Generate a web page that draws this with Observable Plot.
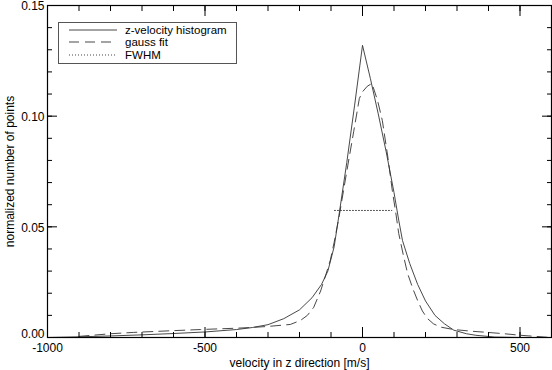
<!DOCTYPE html>
<html>
<head>
<meta charset="utf-8">
<script src="https://cdn.jsdelivr.net/npm/d3@7"></script>
<script src="https://cdn.jsdelivr.net/npm/@observablehq/plot@0.6"></script>
<style>
  html, body { margin: 0; padding: 0; background: #fff; }
  #wrap { position: relative; width: 552px; height: 370px; font-family: "Liberation Sans", Arial, sans-serif; }
  #wrap svg { overflow: visible; }
  #legend { position: absolute; left: 58px; top: 22px; width: 179px; height: 42px; border: 1px solid #555; background: #fff; box-sizing: border-box; }
  .row { position: absolute; left: 0; height: 12px; line-height: 12px; display: flex; align-items: center; font-size: 11.5px; color: #000; white-space: nowrap; }
  .row svg { margin-left: 10px; margin-right: 8px; }
</style>
</head>
<body>
<div id="wrap"></div>
<script>
// Histogram (solid)
const histX = [-1000, -900, -800, -700, -600, -500, -400, -350, -300, -250, -200, -160, -130, -110, -90, -75, -50, -25, 0, 25, 50, 75, 100, 115, 127, 150, 175, 200, 230, 260, 290, 330, 360, 420, 500, 600];
const histY = [0, 0.0003, 0.0007, 0.0012, 0.0018, 0.0025, 0.0036, 0.0045, 0.0058, 0.0085, 0.0125, 0.018, 0.024, 0.030, 0.041, 0.055, 0.079, 0.105, 0.132, 0.117, 0.101, 0.084, 0.0655, 0.053, 0.0438, 0.0334, 0.024, 0.0165, 0.010, 0.0062, 0.0033, 0.0017, 0.001, 0.0002, 0, 0];
// Gauss fit (dashed)
const gaussX = [-900, -800, -727, -600, -514, -400, -356, -300, -229, -197, -175, -155, -133, -115, -102, -90, -75, -50, -28, -10, 0, 15, 30, 48, 63, 80, 95, 105, 115, 130, 143, 160, 175, 190, 206, 225, 248, 289, 350, 397, 450, 502, 550, 597];
const gaussY = [0.0005, 0.0017, 0.0023, 0.0031, 0.0036, 0.0042, 0.0045, 0.0050, 0.0059, 0.0077, 0.0100, 0.0136, 0.021, 0.029, 0.035, 0.043, 0.054, 0.075, 0.093, 0.108, 0.111, 0.1135, 0.1148, 0.107, 0.098, 0.082, 0.066, 0.057, 0.047, 0.037, 0.029, 0.022, 0.0167, 0.012, 0.0086, 0.0062, 0.0047, 0.0036, 0.0028, 0.0023, 0.0017, 0.001, 0.0005, 0];
// FWHM
const fwhmX = [-89, 93];
const fwhmY = [0.0574, 0.0574];

const xMajor = [-1000, -500, 0, 500];
const xMinor = d3.range(-1000, 601, 100);
const yMajor = [0, 0.05, 0.10, 0.15];
const yMinor = d3.range(0, 0.1501, 0.01);

const hist = histX.map((x, i) => ({x, y: histY[i]}));
const gauss = gaussX.map((x, i) => ({x, y: gaussY[i]}));
const fwhm = fwhmX.map((x, i) => ({x, y: fwhmY[i]}));

const ink = "#333";
const fmtY = d3.format(".2f");
const plot = Plot.plot({
  width: 552,
  height: 370,
  marginLeft: 47,
  marginRight: 1,
  marginTop: 5,
  marginBottom: 33,
  style: {fontFamily: "Liberation Sans, Arial, sans-serif", fontSize: "12px", color: "#000", background: "#fff", overflow: "visible"},
  x: {domain: [-1000, 600]},
  y: {domain: [0, 0.15]},
  marks: [
    Plot.line(hist, {x: "x", y: "y", stroke: ink, strokeWidth: 0.9}),
    Plot.line(gauss, {x: "x", y: "y", stroke: ink, strokeWidth: 0.9, strokeDasharray: "10,6"}),
    Plot.line(fwhm, {x: "x", y: "y", stroke: ink, strokeWidth: 0.9, strokeDasharray: "1,2"}),
    // minor ticks (inward)
    Plot.axisX({anchor: "bottom", ticks: xMinor, tickSize: -5, tickFormat: () => "", stroke: "#000", label: null}),
    Plot.axisX({anchor: "top", ticks: xMinor, tickSize: -5, tickFormat: () => "", stroke: "#000", label: null}),
    Plot.axisX({anchor: "bottom", ticks: xMajor, tickSize: -10, tickFormat: () => "", stroke: "#000", label: null}),
    Plot.axisX({anchor: "top", ticks: xMajor, tickSize: -10, tickFormat: () => "", stroke: "#000", label: null}),
    Plot.axisY({anchor: "left", ticks: yMinor, tickSize: -5, tickFormat: () => "", stroke: "#000", label: null}),
    Plot.axisY({anchor: "right", ticks: yMinor, tickSize: -5, tickFormat: () => "", stroke: "#000", label: null}),
    Plot.axisY({anchor: "left", ticks: yMajor, tickSize: -10, tickFormat: () => "", stroke: "#000", label: null}),
    Plot.axisY({anchor: "right", ticks: yMajor, tickSize: -10, tickFormat: () => "", stroke: "#000", label: null}),
    // labels
    Plot.axisX({anchor: "bottom", ticks: xMajor, tickSize: 0, tickPadding: 6, tickFormat: d => String(d), fill: "#000", fontSize: 12,
      label: "velocity in z direction [m/s]", labelAnchor: "center", labelOffset: 29, labelArrow: "none"}),
    Plot.axisY({anchor: "left", ticks: yMajor.slice(1), tickSize: 0, tickPadding: 3, tickFormat: fmtY, fill: "#000", fontSize: 12, dy: 1,
      label: "normalized number of points", labelAnchor: "center", labelOffset: 42, labelArrow: "none"}),
    Plot.axisY({anchor: "left", ticks: yMajor.slice(0, 1), tickSize: 0, tickPadding: 3, tickFormat: fmtY, fill: "#000", fontSize: 12, dy: -3, label: null}),
    Plot.frame({stroke: "#000", strokeWidth: 1.2})
  ]
});
const wrap = document.getElementById("wrap");
wrap.appendChild(plot);

// legend
const items = [
  {label: "z-velocity histogram", dash: null},
  {label: "gauss fit", dash: "10,6"},
  {label: "FWHM", dash: "1,2"}
];
const legend = document.createElement("div");
legend.id = "legend";
items.forEach((it, i) => {
  const row = document.createElement("div");
  row.className = "row";
  row.style.top = (0.5 + i * 12.9) + "px";
  row.innerHTML = `<svg width="48" height="6"><line x1="0" x2="48" y1="3" y2="3" stroke="${ink}" stroke-width="0.9" ${it.dash ? `stroke-dasharray="${it.dash}"` : ""}/></svg><span>${it.label}</span>`;
  legend.appendChild(row);
});
wrap.appendChild(legend);
</script>
</body>
</html>
